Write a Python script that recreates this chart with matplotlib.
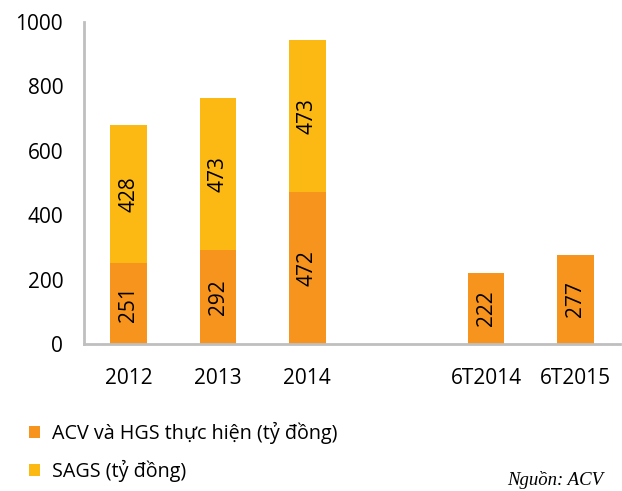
import matplotlib.pyplot as plt
import numpy as np

# Données
categories = ['2012', '2013', '2014', '', '6T2014', '6T2015']
acv_hgs = [251, 292, 472, 0, 222, 277]
sags = [428, 473, 473, 0, 0, 0]
labels = ['ACV và HGS thực hiện (tỷ đồng)', 'SAGS (tỷ đồng)']

plt.rcParams['font.family'] = ['Open Sans', 'DejaVu Sans']

orange = '#F7941D'
jaune = '#FDB913'
gris = '#BFBFBF'

fig = plt.figure(figsize=(6.22, 4.91), dpi=100)
ax = fig.add_axes([0.135, 0.2994, 0.862, 0.6556])

x = np.arange(len(categories))
b1 = ax.bar(x, acv_hgs, width=0.41, color=orange, label=labels[0])
b2 = ax.bar(x, sags, width=0.41, bottom=acv_hgs, color=jaune, label=labels[1])

# Étiquettes verticales dans les barres
for i in range(len(categories)):
    if acv_hgs[i] > 0:
        ax.text(x[i], acv_hgs[i] / 2, str(acv_hgs[i]), rotation=90,
                ha='center', va='center', fontsize=15, color='black')
    if sags[i] > 0:
        ax.text(x[i], acv_hgs[i] + sags[i] / 2, str(sags[i]), rotation=90,
                ha='center', va='center', fontsize=15, color='black')

ax.set_xlim(-0.5, 5.5)
ax.set_ylim(0, 1000)
ax.set_yticks(range(0, 1001, 200))
ax.set_xticks(x)
ax.set_xticklabels(categories)
ax.tick_params(axis='both', length=0, labelsize=15)
ax.tick_params(axis='x', pad=17)
ax.tick_params(axis='y', pad=15)

for s in ['top', 'right']:
    ax.spines[s].set_visible(False)
for s in ['left', 'bottom']:
    ax.spines[s].set_color(gris)
    ax.spines[s].set_linewidth(2)

fig.legend(handles=[b1, b2], loc='center left', bbox_to_anchor=(0.018, 0.08),
           frameon=False, fontsize=14.2, handlelength=0.55, handleheight=0.55,
           handletextpad=0.6, labelspacing=0.8)

fig.text(0.815, 0.022, 'Nguồn: ACV', family=['Liberation Serif', 'DejaVu Serif'],
         style='italic', fontsize=13.5, ha='left', va='center')

fig.savefig('out.png', dpi=100)
